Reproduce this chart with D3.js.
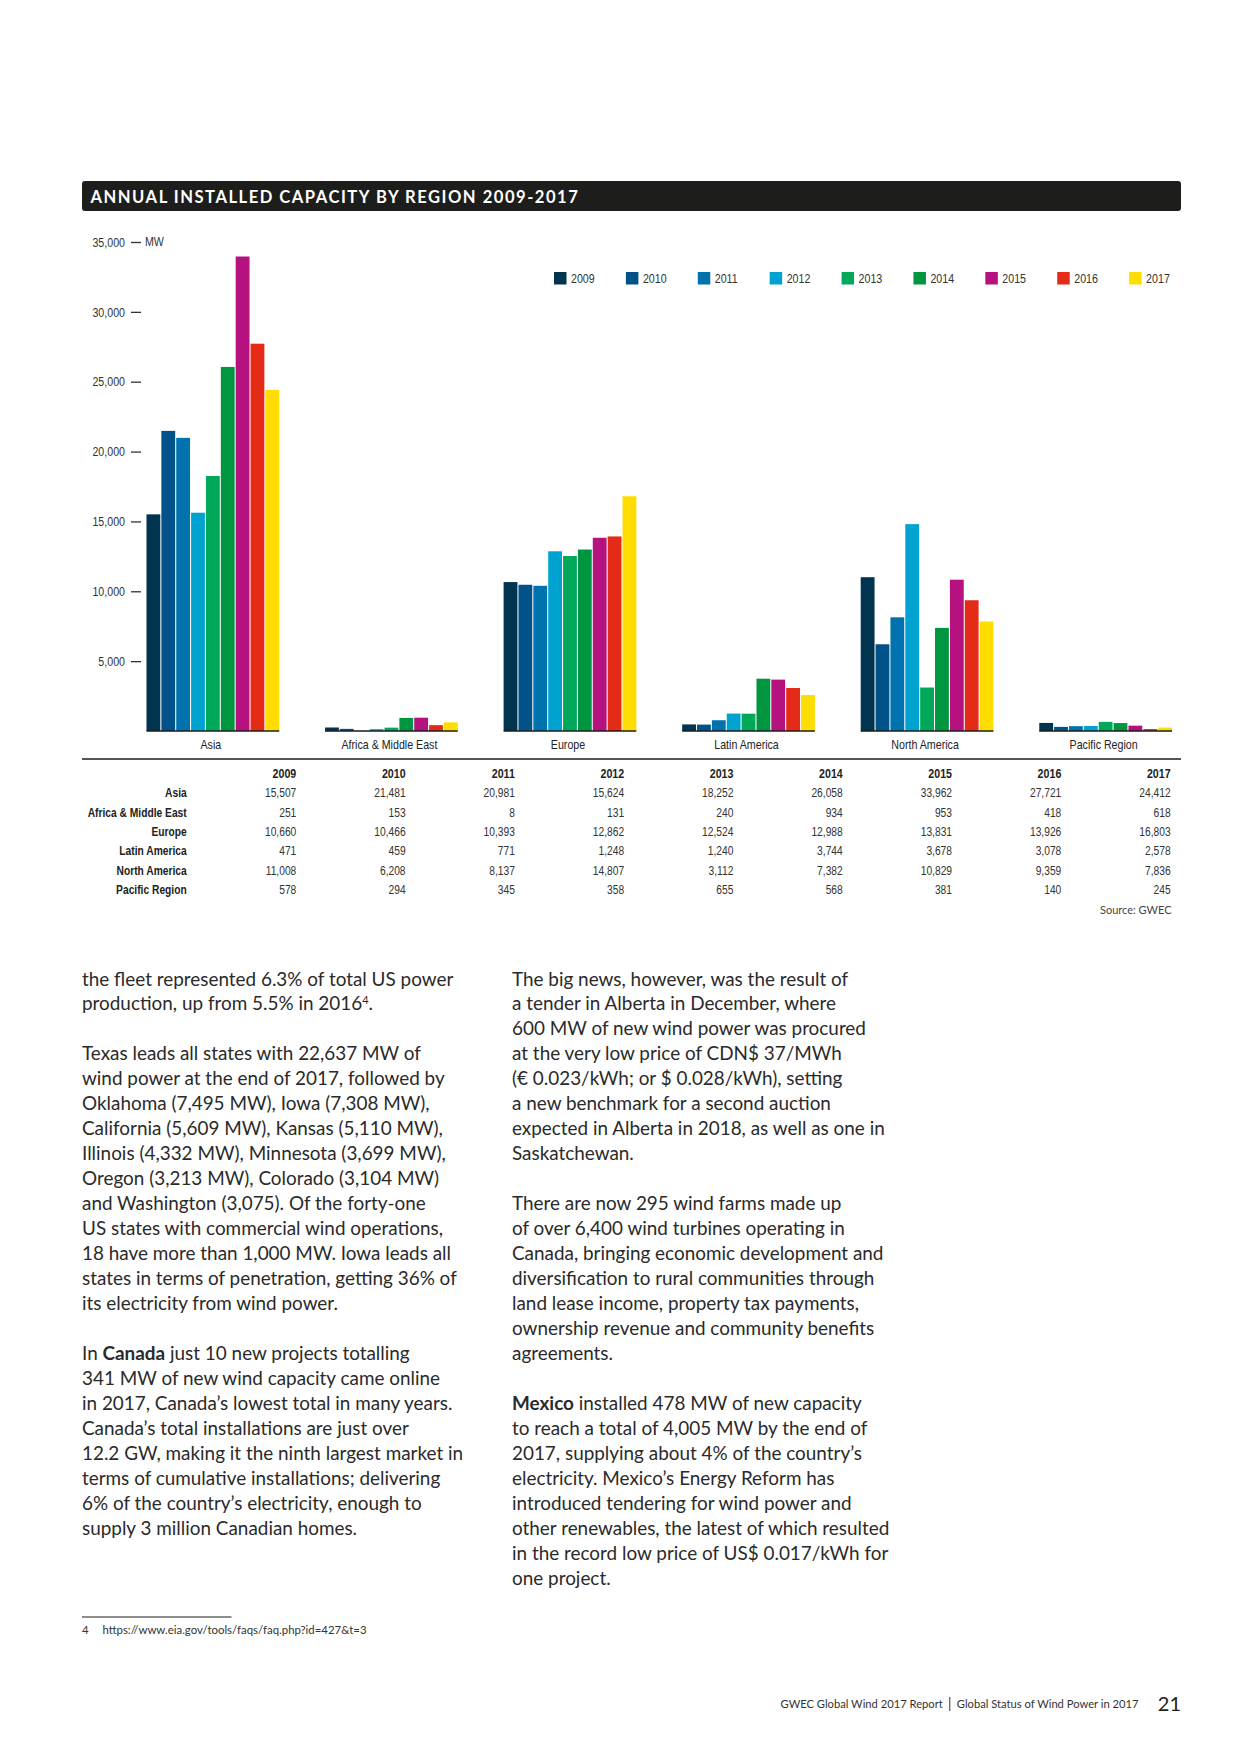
<!DOCTYPE html>
<html>
<head>
<meta charset="utf-8">
<script src="https://cdn.jsdelivr.net/npm/d3@7"></script>
<style>
  html, body { margin: 0; padding: 0; background: #fff; }
  svg { display: block; }
  .cond { font-family: "Liberation Sans", Arimo, sans-serif; }
  .body { font-family: Lato, "Open Sans", sans-serif; }
</style>
</head>
<body>
<svg id="page" width="1240" height="1754"></svg>
<script>
// ---------- DATA ----------
const title = "ANNUAL INSTALLED CAPACITY BY REGION 2009-2017";
const regions = ["Asia", "Africa & Middle East", "Europe", "Latin America", "North America", "Pacific Region"];
const years = ["2009", "2010", "2011", "2012", "2013", "2014", "2015", "2016", "2017"];
const asia             = [15507, 21481, 20981, 15624, 18252, 26058, 33962, 27721, 24412];
const africaMiddleEast = [251, 153, 8, 131, 240, 934, 953, 418, 618];
const europe           = [10660, 10466, 10393, 12862, 12524, 12988, 13831, 13926, 16803];
const latinAmerica     = [471, 459, 771, 1248, 1240, 3744, 3678, 3078, 2578];
const northAmerica     = [11008, 6208, 8137, 14807, 3112, 7382, 10829, 9359, 7836];
const pacificRegion    = [578, 294, 345, 358, 655, 568, 381, 140, 245];
const yTickValues = [5000, 10000, 15000, 20000, 25000, 30000, 35000];
const unitLabel = "MW";
const sourceLabel = "Source: GWEC";
const yearColors = ["#00344f", "#005288", "#0073ae", "#00a3cf", "#00a85a", "#009640", "#b5117f", "#e32b17", "#ffdd00"];

const seriesByRegion = [asia, africaMiddleEast, europe, latinAmerica, northAmerica, pacificRegion];

// ---------- TEXT ----------
const col1 = [
  [["the fleet represented 6.3% of total US power"]],
  [["production, up from 5.5% in 2016"], ["4", "sup"], ["."]],
  null,
  [["Texas leads all states with 22,637 MW of"]],
  [["wind power at the end of 2017, followed by"]],
  [["Oklahoma (7,495 MW), Iowa (7,308 MW),"]],
  [["California (5,609 MW), Kansas (5,110 MW),"]],
  [["Illinois (4,332 MW), Minnesota (3,699 MW),"]],
  [["Oregon (3,213 MW), Colorado (3,104 MW)"]],
  [["and Washington (3,075). Of the forty-one"]],
  [["US states with commercial wind operations,"]],
  [["18 have more than 1,000 MW. Iowa leads all"]],
  [["states in terms of penetration, getting 36% of"]],
  [["its electricity from wind power."]],
  null,
  [["In "], ["Canada", "b"], [" just 10 new projects totalling"]],
  [["341 MW of new wind capacity came online"]],
  [["in 2017, Canada’s lowest total in many years."]],
  [["Canada’s total installations are just over"]],
  [["12.2 GW, making it the ninth largest market in"]],
  [["terms of cumulative installations; delivering"]],
  [["6% of the country’s electricity, enough to"]],
  [["supply 3 million Canadian homes."]]
];
const col2 = [
  [["The big news, however, was the result of"]],
  [["a tender in Alberta in December, where"]],
  [["600 MW of new wind power was procured"]],
  [["at the very low price of CDN$ 37/MWh"]],
  [["(€ 0.023/kWh; or $ 0.028/kWh), setting"]],
  [["a new benchmark for a second auction"]],
  [["expected in Alberta in 2018, as well as one in"]],
  [["Saskatchewan."]],
  null,
  [["There are now 295 wind farms made up"]],
  [["of over 6,400 wind turbines operating in"]],
  [["Canada, bringing economic development and"]],
  [["diversification to rural communities through"]],
  [["land lease income, property tax payments,"]],
  [["ownership revenue and community benefits"]],
  [["agreements."]],
  null,
  [["Mexico", "b"], [" installed 478 MW of new capacity"]],
  [["to reach a total of 4,005 MW by the end of"]],
  [["2017, supplying about 4% of the country’s"]],
  [["electricity. Mexico’s Energy Reform has"]],
  [["introduced tendering for wind power and"]],
  [["other renewables, the latest of which resulted"]],
  [["in the record low price of US$ 0.017/kWh for"]],
  [["one project."]]
];
const footnote = ["4", "https://www.eia.gov/tools/faqs/faq.php?id=427&t=3"];
const footerLeft = "GWEC Global Wind 2017 Report";
const footerRight = "Global Status of Wind Power in 2017";
const pageNo = "21";

// ---------- HELPERS ----------
const SQUEEZE = 0.82;
function condense(sel) {
  sel.each(function () {
    const t = d3.select(this);
    const x = +t.attr("x") || 0, yy = +t.attr("y") || 0;
    t.attr("x", 0).attr("y", 0).attr("transform", `translate(${x},${yy}) scale(${SQUEEZE},1)`);
  });
}

// ---------- DRAW ----------
const svg = d3.select("#page");
svg.append("rect").attr("width", 1240).attr("height", 1754).attr("fill", "#fff");

// Title bar
svg.append("rect").attr("x", 82).attr("y", 181).attr("width", 1099).attr("height", 30)
  .attr("rx", 3).attr("fill", "#1d1d1b");
svg.append("text").attr("x", 90.5).attr("y", 202.5)
  .attr("fill", "#fff").attr("font-family", "Lato, 'Open Sans', sans-serif")
  .attr("font-weight", 700).attr("font-size", 16.6).attr("letter-spacing", 1.5)
  .text(title);

// Scales
const y = d3.scaleLinear().domain([0, 35000]).range([731, 242]);
const xGroup = d3.scaleBand().domain(regions).range([146.5, 1172]).paddingInner(0.2566).paddingOuter(0);
const xYear = d3.scaleBand().domain(years).range([0, xGroup.bandwidth()]).paddingInner(0.07).paddingOuter(0);
const color = d3.scaleOrdinal().domain(years).range(yearColors);

// Y axis
const yAxis = d3.axisLeft(y).tickValues(yTickValues).tickSize(10).tickPadding(6)
  .tickFormat(d3.format(","));
const gy = svg.append("g").attr("transform", "translate(141,0)").call(yAxis);
gy.select(".domain").remove();
gy.selectAll(".tick line").attr("stroke", "#333").attr("stroke-width", 1.3);
gy.selectAll(".tick text").attr("class", "cond").attr("font-size", 13).attr("fill", "#333")
  .attr("font-family", null).call(condense);
gy.attr("font-family", null).attr("font-size", null);
svg.append("text").attr("class", "cond").attr("x", 145).attr("y", y(35000)).attr("dy", "0.32em")
  .attr("font-size", 13).attr("fill", "#333").text(unitLabel).call(condense);

// Bars
const groups = svg.append("g").selectAll("g").data(regions).join("g")
  .attr("transform", d => `translate(${xGroup(d)},0)`);
groups.selectAll("rect").data((d, i) => years.map((yr, j) => ({ yr, v: seriesByRegion[i][j] })))
  .join("rect")
  .attr("x", d => xYear(d.yr))
  .attr("y", d => y(d.v))
  .attr("width", xYear.bandwidth())
  .attr("height", d => y(0) - y(d.v))
  .attr("fill", d => color(d.yr));
groups.append("line").attr("x1", 0).attr("x2", xGroup.bandwidth())
  .attr("y1", y(0)).attr("y2", y(0)).attr("stroke", "#1d1d1b").attr("stroke-width", 1.6);
groups.append("text").attr("class", "cond").attr("x", xGroup.bandwidth() / 2 - 2).attr("y", 744)
  .attr("dy", "0.35em").attr("text-anchor", "middle").attr("font-size", 13)
  .attr("fill", "#222").text(d => d).call(condense);

// Legend
const legX = d3.scaleBand().domain(years).range([554, 1201]).paddingInner(0);
const leg = svg.append("g").selectAll("g").data(years).join("g")
  .attr("transform", d => `translate(${legX(d)},272)`);
leg.append("rect").attr("width", 12.5).attr("height", 12.5).attr("fill", d => color(d));
leg.append("text").attr("class", "cond").attr("x", 17).attr("y", 6.5).attr("dy", "0.36em")
  .attr("font-size", 13).attr("fill", "#333").text(d => d).call(condense);

// Table
svg.append("line").attr("x1", 82).attr("x2", 1181).attr("y1", 759).attr("y2", 759)
  .attr("stroke", "#1d1d1b").attr("stroke-width", 1.5);
const xCol = d3.scaleBand().domain(years).range([187, 1170.6]).paddingInner(0);
const yRow = d3.scalePoint().domain(regions).range([792.7, 890]);
svg.append("g").selectAll("text").data(years).join("text").attr("class", "cond")
  .attr("x", d => xCol(d) + xCol.bandwidth()).attr("y", 773).attr("dy", "0.35em")
  .attr("text-anchor", "end").attr("font-size", 13).attr("font-weight", 700).attr("fill", "#222")
  .text(d => d).call(condense);
svg.append("g").selectAll("text").data(regions).join("text").attr("class", "cond")
  .attr("x", 186.7).attr("y", d => yRow(d)).attr("dy", "0.35em")
  .attr("text-anchor", "end").attr("font-size", 12.5).attr("font-weight", 700).attr("fill", "#222")
  .text(d => d).call(condense);
const cells = [];
regions.forEach((r, i) => years.forEach((yr, j) => cells.push({ r, yr, v: seriesByRegion[i][j] })));
svg.append("g").selectAll("text").data(cells).join("text").attr("class", "cond")
  .attr("x", d => xCol(d.yr) + xCol.bandwidth()).attr("y", d => yRow(d.r)).attr("dy", "0.35em")
  .attr("text-anchor", "end").attr("font-size", 12.5).attr("fill", "#333")
  .text(d => d3.format(",")(d.v)).call(condense);
svg.append("text").attr("class", "body").attr("x", 1171.5).attr("y", 910).attr("dy", "0.35em")
  .attr("text-anchor", "end").attr("font-size", 11).attr("fill", "#444").text(sourceLabel);

// Body text
function drawColumn(lines, x0, yStart) {
  const g = svg.append("g").attr("class", "body").attr("font-size", 18.9).attr("fill", "#2a2a2a");
  lines.forEach((parts, i) => {
    if (!parts) return;
    const t = g.append("text").attr("x", x0).attr("y", yStart + i * 24.97);
    parts.forEach(p => {
      const s = t.append("tspan").text(p[0]);
      if (p[1] === "b") s.attr("font-weight", 700);
      if (p[1] === "sup") s.attr("font-size", 11).attr("baseline-shift", "6");
    });
  });
}
drawColumn(col1, 82, 985.5);
drawColumn(col2, 512, 985.5);

// Footnote
svg.append("line").attr("x1", 82).attr("x2", 231.5).attr("y1", 1617).attr("y2", 1617)
  .attr("stroke", "#1d1d1b").attr("stroke-width", 1.2);
svg.append("text").attr("class", "body").attr("x", 82).attr("y", 1634)
  .attr("font-size", 11.4).attr("fill", "#333").text(footnote[0]);
svg.append("text").attr("class", "body").attr("x", 102.5).attr("y", 1634)
  .attr("font-size", 11.4).attr("fill", "#333").text(footnote[1]);

// Footer
const fr = svg.append("text").attr("class", "body").attr("x", 1138.5).attr("y", 1708)
  .attr("text-anchor", "end").attr("font-size", 11.2).attr("fill", "#333").text(footerRight);
const frW = fr.node().getComputedTextLength();
svg.append("line").attr("x1", 1138.5 - frW - 7).attr("x2", 1138.5 - frW - 7)
  .attr("y1", 1697).attr("y2", 1711).attr("stroke", "#333").attr("stroke-width", 1);
svg.append("text").attr("class", "body").attr("x", 1138.5 - frW - 14).attr("y", 1708)
  .attr("text-anchor", "end").attr("font-size", 11.2).attr("fill", "#333").text(footerLeft);
svg.append("text").attr("class", "body").attr("x", 1181).attr("y", 1711)
  .attr("text-anchor", "end").attr("font-size", 20).attr("fill", "#222").text(pageNo);
</script>
</body>
</html>
